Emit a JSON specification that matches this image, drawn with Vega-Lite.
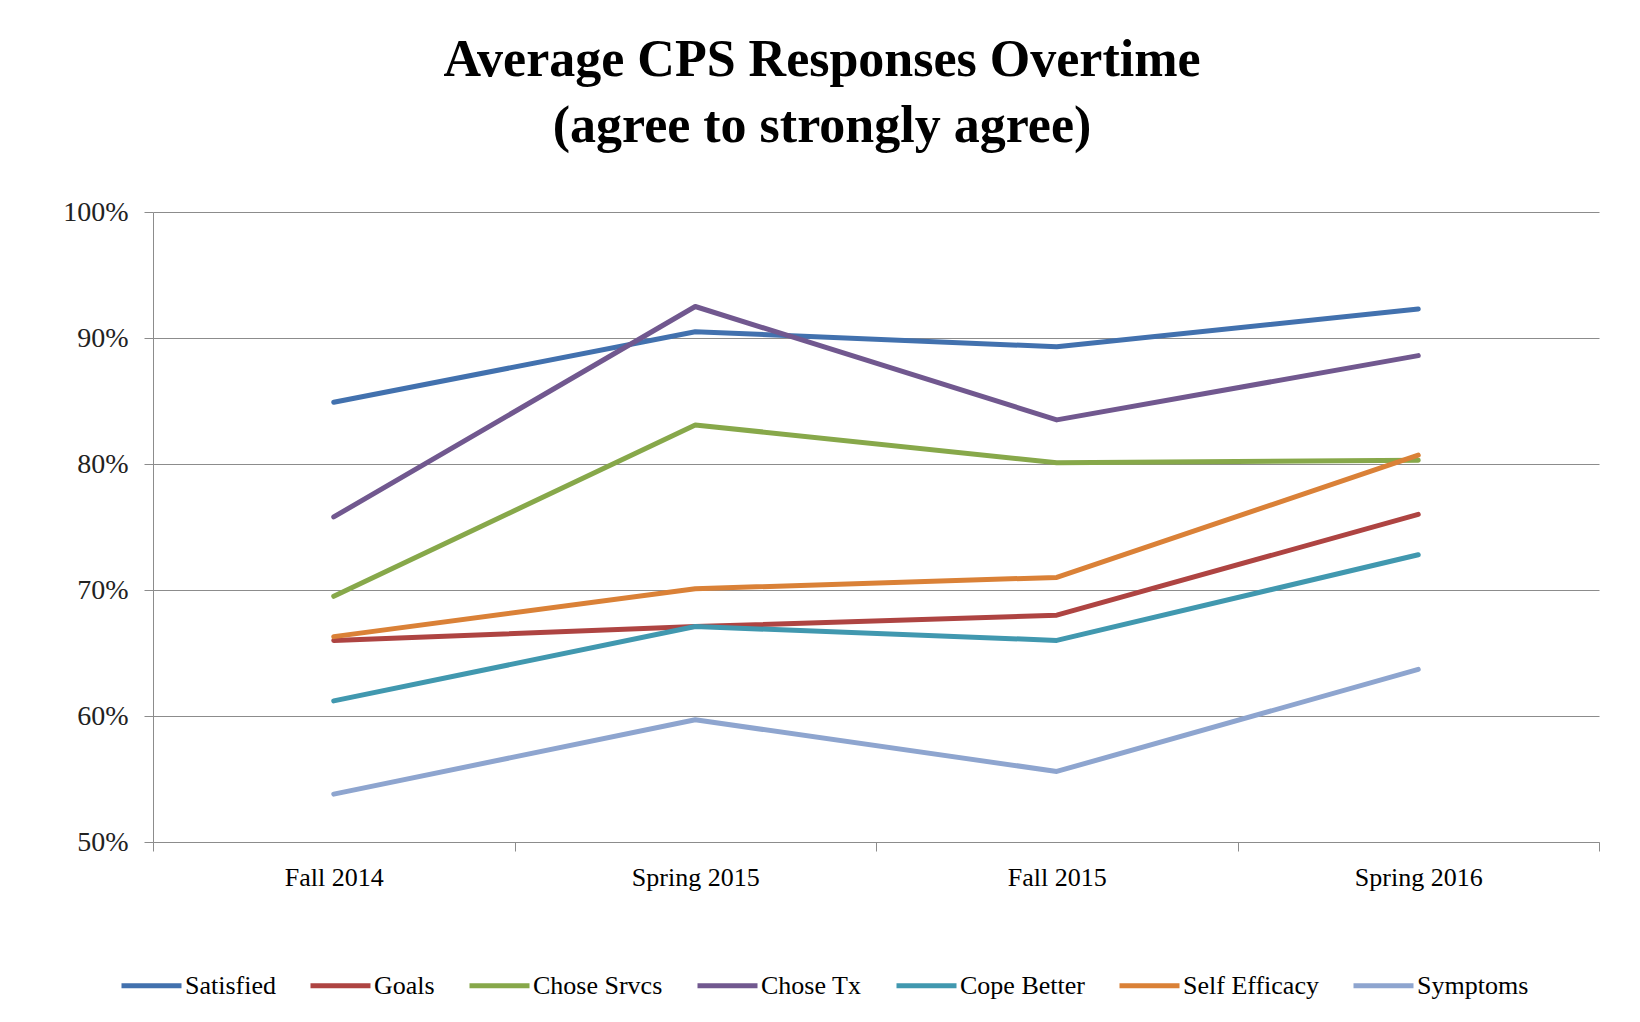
{
  "$schema": "https://vega.github.io/schema/vega-lite/v6.json",
  "autosize": {"type": "none"},
  "width": 1446,
  "height": 630,
  "padding": {"left": 153, "top": 212, "right": 41, "bottom": 180},
  "background": "white",
  "title": {
    "text": ["Average CPS Responses Overtime", "(agree to strongly agree)"],
    "font": "Liberation Serif",
    "fontSize": 52,
    "fontWeight": "bold",
    "color": "black",
    "lineHeight": 66,
    "anchor": "middle",
    "frame": "group",
    "dx": -54,
    "offset": 45
  },
  "data": {
    "values": [
      {"period": "Fall 2014", "series": "Satisfied", "value": 0.849},
      {"period": "Spring 2015", "series": "Satisfied", "value": 0.905},
      {"period": "Fall 2015", "series": "Satisfied", "value": 0.893},
      {"period": "Spring 2016", "series": "Satisfied", "value": 0.923},
      {"period": "Fall 2014", "series": "Goals", "value": 0.660},
      {"period": "Spring 2015", "series": "Goals", "value": 0.671},
      {"period": "Fall 2015", "series": "Goals", "value": 0.680},
      {"period": "Spring 2016", "series": "Goals", "value": 0.760},
      {"period": "Fall 2014", "series": "Chose Srvcs", "value": 0.695},
      {"period": "Spring 2015", "series": "Chose Srvcs", "value": 0.831},
      {"period": "Fall 2015", "series": "Chose Srvcs", "value": 0.801},
      {"period": "Spring 2016", "series": "Chose Srvcs", "value": 0.803},
      {"period": "Fall 2014", "series": "Chose Tx", "value": 0.758},
      {"period": "Spring 2015", "series": "Chose Tx", "value": 0.925},
      {"period": "Fall 2015", "series": "Chose Tx", "value": 0.835},
      {"period": "Spring 2016", "series": "Chose Tx", "value": 0.886},
      {"period": "Fall 2014", "series": "Cope Better", "value": 0.612},
      {"period": "Spring 2015", "series": "Cope Better", "value": 0.671},
      {"period": "Fall 2015", "series": "Cope Better", "value": 0.660},
      {"period": "Spring 2016", "series": "Cope Better", "value": 0.728},
      {"period": "Fall 2014", "series": "Self Efficacy", "value": 0.663},
      {"period": "Spring 2015", "series": "Self Efficacy", "value": 0.701},
      {"period": "Fall 2015", "series": "Self Efficacy", "value": 0.710},
      {"period": "Spring 2016", "series": "Self Efficacy", "value": 0.807},
      {"period": "Fall 2014", "series": "Symptoms", "value": 0.538},
      {"period": "Spring 2015", "series": "Symptoms", "value": 0.597},
      {"period": "Fall 2015", "series": "Symptoms", "value": 0.556},
      {"period": "Spring 2016", "series": "Symptoms", "value": 0.637}
    ]
  },
  "mark": {"type": "line", "strokeWidth": 5, "strokeCap": "round", "strokeJoin": "round"},
  "encoding": {
    "x": {
      "field": "period",
      "type": "nominal",
      "sort": ["Fall 2014", "Spring 2015", "Fall 2015", "Spring 2016"],
      "scale": {"type": "band", "paddingInner": 0, "paddingOuter": 0},
      "axis": {
        "title": null,
        "labelAngle": 0,
        "tickBand": "extent",
        "tickSize": 9,
        "tickColor": "#8c8c8c",
        "domainColor": "#8c8c8c",
        "labelPadding": 13,
        "labelFont": "Liberation Serif",
        "labelFontSize": 26,
        "labelColor": "black",
        "grid": false
      }
    },
    "y": {
      "field": "value",
      "type": "quantitative",
      "scale": {"domain": [0.5, 1.0], "nice": false, "zero": false},
      "axis": {
        "title": null,
        "format": ".0%",
        "values": [0.5, 0.6, 0.7, 0.8, 0.9, 1.0],
        "tickSize": 9,
        "tickColor": "#8c8c8c",
        "domainColor": "#8c8c8c",
        "gridColor": "#8c8c8c",
        "gridWidth": 1.2,
        "labelPadding": 16,
        "labelFont": "Liberation Serif",
        "labelFontSize": 28,
        "labelColor": "#222222"
      }
    },
    "color": {
      "field": "series",
      "type": "nominal",
      "scale": {
        "domain": ["Satisfied", "Goals", "Chose Srvcs", "Chose Tx", "Cope Better", "Self Efficacy", "Symptoms"],
        "range": ["#4271AE", "#AE4442", "#87A84A", "#71588F", "#4198AF", "#DA8137", "#8EA5CF"]
      },
      "legend": {
        "title": null,
        "orient": "none",
        "direction": "horizontal",
        "legendX": -34,
        "legendY": 741,
        "columns": 7,
        "symbolType": "stroke",
        "symbolSize": 3600,
        "symbolStrokeWidth": 5,
        "labelOffset": 1,
        "columnPadding": 24,
        "labelFont": "Liberation Serif",
        "labelFontSize": 26,
        "labelColor": "black",
        "labelLimit": 300
      }
    }
  },
  "config": {
    "view": {"stroke": null}
  }
}
